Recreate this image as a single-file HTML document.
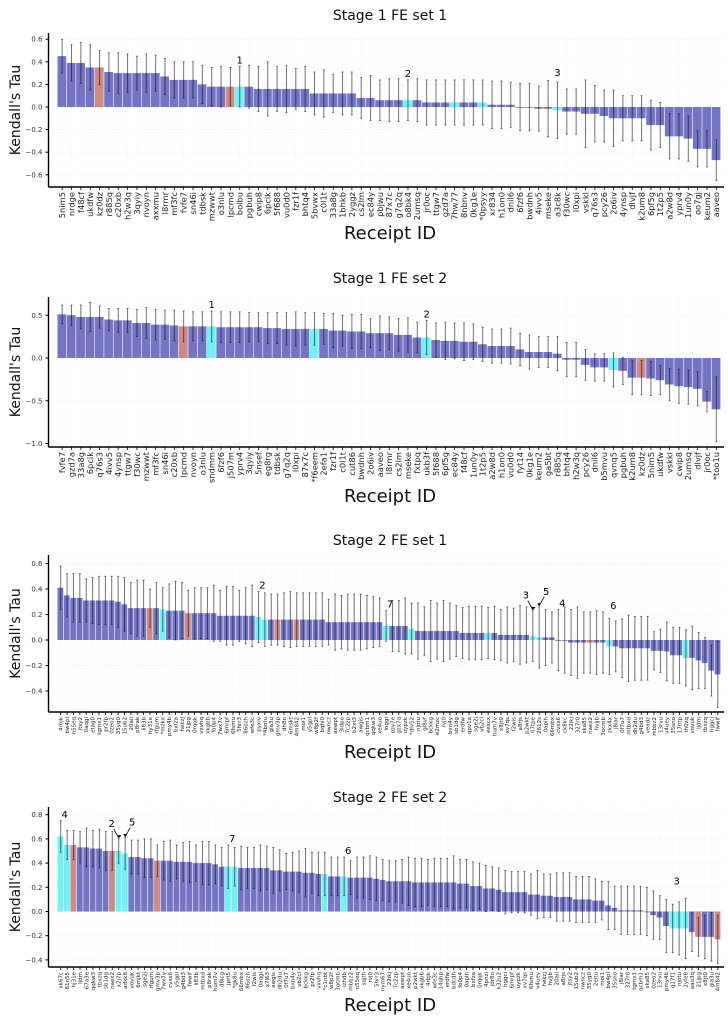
<!DOCTYPE html>
<html><head><meta charset="utf-8">
<style>
html,body{margin:0;padding:0;background:#fff;}
svg{display:block;font-family:"DejaVu Sans","Liberation Sans",sans-serif;}
</style></head>
<body>
<svg id="chart" width="728" height="1026" viewBox="0 0 728 1026" xmlns="http://www.w3.org/2000/svg"></svg>
<script>
// ---------- Panel 1 data ----------
const p1Names = ["5nim5","nrdge","f48cf","ukdfw","kz0dz","r885q","c20xb","h2w3q","3qyiy","nvoyn","axxmu","l8rmr","mf3fc","fvfe7","sn46i","tdbsk","mzwwt","o3nlu","lpcmd","bolbu","pgbuh","cwip8","6pcik","5f688","vu0d0","fzr1f","bhtq4","5bvwx","c0l1t","33a8g","1bhkb","2yggz","cs2lm","ec84y","pbjwu","87x7c","g7q2q","o8bk4","2umsq","jr0oc","ttgw7","gzd7a","7hw77","8nbnv","0kg1e","*0psyy","xr834","h1on0","dnil6","6fzf6","bwdnh","4ivv5","mseke","a3c8k","f30wc","l0xpi","vskkl","q76s3","pcy26","2o6iv","4ynsp","dlvjf","k2um8","6pf5g","1t2p5","a2w8d","yprv4","1un0y","oo7gj","keum2","aaveo"];
const p1Vals = [0.45,0.39,0.39,0.35,0.35,0.31,0.30,0.30,0.30,0.30,0.30,0.27,0.24,0.24,0.24,0.20,0.18,0.18,0.18,0.18,0.18,0.16,0.16,0.16,0.16,0.16,0.16,0.12,0.12,0.12,0.12,0.12,0.08,0.08,0.06,0.06,0.06,0.06,0.06,0.04,0.04,0.04,0.04,0.04,0.04,0.04,0.02,0.02,0.02,0,0,-0.015,-0.015,-0.03,-0.04,-0.04,-0.06,-0.06,-0.08,-0.10,-0.10,-0.10,-0.10,-0.16,-0.16,-0.26,-0.26,-0.28,-0.37,-0.37,-0.47];
const p1Errs = [0.15,0.16,0.18,0.2,0.15,0.17,0.18,0.17,0.15,0.17,0.16,0.16,0.16,0.16,0.16,0.17,0.17,0.18,0.17,0.18,0.19,0.2,0.24,0.2,0.21,0.18,0.2,0.19,0.21,0.17,0.19,0.19,0.18,0.2,0.18,0.19,0.19,0.18,0.19,0.2,0.2,0.2,0.2,0.2,0.2,0.2,0.21,0.21,0.2,0.21,0.21,0.2,0.25,0.25,0.2,0.2,0.3,0.25,0.23,0.25,0.2,0.2,0.2,0.22,0.2,0.2,0.2,0.2,0.16,0.16,0.18];
const p1Red = [4,18];
const p1Cyan = [19,37,42,45,53];
const p1Ticks = [0.6,0.4,0.2,0.0,-0.2,-0.4,-0.6];
const p1TickLabels = ["0.6","0.4","0.2","0.0","\u22120.2","\u22120.4","\u22120.6"];
const p1Notes = [["1",19],["2",37],["3",53]];

// ---------- Panel 2 data ----------
const p2Names = ["fvfe7","gzd7a","33a8g","6pcik","q76s3","4ivv5","4ynsp","ttgw7","f30wc","mzwwt","mf3fc","sn46i","c20xb","lpcmd","nvoyn","o3nlu","sndmm","6fzf6","j507m","yprv4","3qyiy","5nsef","eg8rg","tdbsk","g7q2q","l0xpi","87x7c","*f6eem","2efa1","fzr1f","c0l1t","cut86","bwdnh","2o6iv","aaveo","l8rmr","cs2lm","mseke","fxtpq","ukb3f","5f688","6pf5g","ec84y","f48cf","1un0y","1t2p5","a2w8d","h1on0","vu0d0","fyt14","0kg1e","keum2","ga5bt","r885q","bhtq4","h2w3q","pcy26","dnil6","b5mvu","qvnq5","pgbuh","k2um8","kz0dz","5nim5","ukdfw","vskkl","cwip8","2umsq","dlvjf","jr0oc","*too1u"];
const p2Vals = [0.51,0.50,0.48,0.48,0.48,0.45,0.44,0.44,0.41,0.41,0.39,0.39,0.38,0.37,0.37,0.37,0.37,0.36,0.36,0.36,0.36,0.36,0.35,0.35,0.34,0.34,0.34,0.34,0.34,0.32,0.32,0.31,0.31,0.29,0.29,0.29,0.27,0.27,0.24,0.24,0.21,0.20,0.20,0.19,0.19,0.16,0.14,0.14,0.14,0.10,0.07,0.07,0.07,0.05,-0.02,-0.02,-0.08,-0.11,-0.11,-0.14,-0.15,-0.23,-0.23,-0.24,-0.26,-0.31,-0.33,-0.34,-0.36,-0.51,-0.60];
const p2Errs = [0.11,0.12,0.14,0.17,0.13,0.13,0.14,0.14,0.16,0.18,0.18,0.17,0.18,0.18,0.17,0.17,0.18,0.18,0.18,0.18,0.17,0.17,0.18,0.18,0.19,0.2,0.19,0.19,0.18,0.2,0.18,0.2,0.2,0.17,0.2,0.19,0.19,0.2,0.18,0.2,0.2,0.22,0.21,0.22,0.21,0.2,0.2,0.2,0.21,0.19,0.2,0.18,0.18,0.2,0.2,0.2,0.18,0.16,0.16,0.2,0.16,0.2,0.2,0.2,0.17,0.19,0.2,0.2,0.2,0.12,0.38];
const p2Red = [13,62];
const p2Cyan = [16,27,39,59];
const p2Ticks = [0.5,0.0,-0.5,-1.0];
const p2TickLabels = ["0.5","0.0","\u22120.5","\u22121.0"];
const p2Notes = [["1",16],["2",39]];

// ---------- Panel 3 data ----------
const p3Names = ["4rbjk","bw4pl","n55eq","jtsy2","0aqgi","etag0","tgmx1","pr2fp","0zeo2","35yg0","15ub2","20aii","p8rak","li83b","hy31e","rfgum","*mzkx","pmy4b","bxfza","hekzj","21jpg","0rqqk","vxvhq","xkgbb","fo0p4","7wx7v","6mrpf","6fsmu","5hrr3","86ozh","wfe3c","pyxiv","*4botu","gia3u","gmv3p","dh8n","6mskt","4m842","moi1","y5gpl","w8p2f","bqhi0","nwncz","aewpt","3idpo","7c2zp","b2xt3","awgis","qcbm1","qqkw3","xe4uo","inggi","ozv7e","gzx7q","uypzk","*dlv52","njotu","gl8vf","bckkg","e2mzc","rvj0","bxn4y","sb1dg","erdfw","qpv1a","sge2j","vb2cl","eexcx","hum7v","x8jt0","xv7qs","f2wis","a8rjs","p2wkt","07tpe","2612s","0aplh","66mbx","cvxs6","ck8kc","22ikj","327r0","ska85","naex2","hvjjb","3ocmb","zkx4x","j8iar","0f7u7","mtbxd","dh2du","g4bd3","veadz","mbbz2","13rvu","v4uey","35sno","17htp","th0zq","vovuk","ljdm","tbxzq","hggci","fwwlf"];
const p3Vals = [0.41,0.35,0.33,0.33,0.31,0.31,0.31,0.31,0.31,0.30,0.28,0.25,0.25,0.25,0.25,0.25,0.24,0.23,0.23,0.23,0.21,0.21,0.21,0.21,0.21,0.19,0.19,0.19,0.19,0.19,0.19,0.18,0.16,0.16,0.16,0.16,0.16,0.16,0.16,0.16,0.16,0.16,0.14,0.14,0.14,0.14,0.14,0.14,0.14,0.14,0.14,0.11,0.11,0.11,0.11,0.09,0.07,0.07,0.07,0.07,0.07,0.07,0.07,0.055,0.055,0.055,0.055,0.055,0.055,0.04,0.04,0.04,0.04,0.04,0.03,0.02,0.02,0.02,0,0,-0.02,-0.02,-0.02,-0.02,-0.02,-0.02,-0.05,-0.05,-0.065,-0.065,-0.065,-0.065,-0.065,-0.085,-0.085,-0.09,-0.12,-0.12,-0.14,-0.14,-0.16,-0.18,-0.24,-0.27];
const p3Errs = [0.17,0.17,0.19,0.19,0.17,0.18,0.19,0.19,0.19,0.2,0.21,0.2,0.22,0.22,0.15,0.2,0.17,0.21,0.23,0.22,0.18,0.2,0.2,0.2,0.22,0.2,0.23,0.23,0.2,0.22,0.24,0.2,0.21,0.2,0.2,0.21,0.22,0.21,0.21,0.21,0.21,0.21,0.18,0.22,0.21,0.22,0.22,0.22,0.21,0.2,0.19,0.12,0.2,0.2,0.22,0.2,0.22,0.19,0.24,0.22,0.24,0.22,0.2,0.2,0.21,0.21,0.21,0.2,0.21,0.2,0.22,0.21,0.23,0.22,0.2,0.24,0.22,0.2,0.24,0.26,0.26,0.28,0.24,0.24,0.25,0.24,0.22,0.2,0.23,0.26,0.25,0.25,0.25,0.15,0.17,0.23,0.22,0.22,0.22,0.25,0.22,0.2,0.2,0.26];
const p3Red = [14,20,34,37,83];
const p3Cyan = [16,31,32,51,55,67,74,75,86,98];
const p3Ticks = [0.6,0.4,0.2,0.0,-0.2,-0.4];
const p3TickLabels = ["0.6","0.4","0.2","0.0","\u22120.2","\u22120.4"];
const p3Notes = [["2",31],["7",51],["4",78],["6",86]];
const p3Arrows = [["3",74,-1],["5",75,1]];

// ---------- Panel 4 data ----------
const p4Names = ["xk67c","81n55","hj31e","ljdm","67a3e","qqkw3","tbxzq","sb1dg","naex2","x2j7p","adxk8","vovuk","6mjkt","sge2j","rfgum","gmv3p","7wx7v","cvxs6","y5gpl","g4bd3","fwwlf","li83b","mtbxd","p8rak","hum7v","d8lcg","jprt5","*gk8u","66mbx","86ozh","f2wis","0aqgi","x7l63","awgis","dh2du","0f7u7","bxn4y","vb2cl","bckkg","pr2fp","vxvhq","*c1nbt","w8p2f","3ocmb","izhdb","mbbz2","n55eq","sqjth","rvj0","5hrr3","nym67","22ikj","7c2zp","aewpt","xe4uo","p2wkt","xkgbb","4rbjk","wfe3c","14qhp","erdfw","bdcdh","fo0p4","0aplh","bxfza","0rqqk","4pnzi","jdr8n","k32u2","hggci","6mrpf","uypzk","xv7qs","6fsmu","v4uey","hekzj","hvjjb","20aii","a8rjs","jtsy2","15ub2","nwncz","35yg0","2eltu","moi1","bw4pl","35sno","j8iar","327r0","tgmx1","qcbm1","ska85","0zeo2","13rvu","pmy4b","q17f1","njotu","2yfe8","aau3q","21jpg","x8jt0","gia3u","4m842"];
const p4Vals = [0.62,0.55,0.55,0.53,0.53,0.52,0.52,0.50,0.50,0.50,0.48,0.45,0.45,0.44,0.44,0.42,0.42,0.42,0.41,0.41,0.41,0.40,0.40,0.40,0.39,0.37,0.37,0.37,0.36,0.36,0.36,0.36,0.36,0.34,0.34,0.33,0.33,0.33,0.32,0.32,0.31,0.31,0.29,0.29,0.29,0.28,0.28,0.28,0.28,0.27,0.26,0.25,0.25,0.25,0.25,0.24,0.24,0.24,0.24,0.24,0.24,0.24,0.23,0.23,0.21,0.21,0.19,0.19,0.18,0.16,0.16,0.16,0.16,0.14,0.14,0.13,0.13,0.12,0.12,0.12,0.10,0.10,0.10,0.09,0.09,0.05,0.03,0.01,0.01,0.01,0.01,0,-0.03,-0.05,-0.12,-0.14,-0.14,-0.14,-0.17,-0.21,-0.21,-0.21,-0.23];
const p4Errs = [0.13,0.12,0.12,0.13,0.16,0.15,0.16,0.16,0.16,0.1,0.13,0.14,0.14,0.16,0.16,0.13,0.16,0.17,0.14,0.16,0.17,0.15,0.18,0.18,0.16,0.16,0.18,0.16,0.18,0.17,0.17,0.19,0.18,0.19,0.17,0.15,0.16,0.17,0.2,0.17,0.18,0.18,0.16,0.16,0.16,0.14,0.17,0.17,0.18,0.18,0.17,0.17,0.17,0.18,0.2,0.2,0.2,0.19,0.2,0.2,0.2,0.22,0.2,0.2,0.2,0.19,0.19,0.18,0.18,0.18,0.17,0.17,0.17,0.17,0.2,0.18,0.18,0.2,0.2,0.2,0.19,0.19,0.19,0.18,0.16,0.2,0.18,0.2,0.2,0.2,0.2,0.2,0.2,0.18,0.22,0.2,0.22,0.25,0.16,0.16,0.18,0.2,0.2];
const p4Red = [2,8,15,99,102];
const p4Cyan = [0,1,9,10,26,27,41,44,95,96,97];
const p4Ticks = [0.8,0.6,0.4,0.2,0.0,-0.2,-0.4];
const p4TickLabels = ["0.8","0.6","0.4","0.2","0.0","\u22120.2","\u22120.4"];
const p4Notes = [["4",0],["7",26],["6",44],["3",95]];
const p4Arrows = [["2",9,-1],["5",10,1]];

const NS = "http://www.w3.org/2000/svg";
const svg = document.getElementById('chart');
function mk(tag, attrs, parent){
  const e = document.createElementNS(NS, tag);
  for (const k in attrs) e.setAttribute(k, attrs[k]);
  (parent||svg).appendChild(e);
  return e;
}

const panels = [
  {id:"stage1-set1", title:"Stage 1 FE set 1", titleY:20, top:33, axisY:187, y0:107, scale:113, names:p1Names, vals:p1Vals, errs:p1Errs, red:p1Red, cyan:p1Cyan, ticks:p1Ticks, tickLabels:p1TickLabels, notes:p1Notes, arrows:[], fs:8.3, xlabY:239},
  {id:"stage1-set2", title:"Stage 1 FE set 2", titleY:283, top:297, axisY:447, y0:358, scale:85.5, names:p2Names, vals:p2Vals, errs:p2Errs, red:p2Red, cyan:p2Cyan, ticks:p2Ticks, tickLabels:p2TickLabels, notes:p2Notes, arrows:[], fs:8.3, xlabY:502},
  {id:"stage2-set1", title:"Stage 2 FE set 1", titleY:545, top:555, axisY:712, y0:640, scale:127.5, names:p3Names, vals:p3Vals, errs:p3Errs, red:p3Red, cyan:p3Cyan, ticks:p3Ticks, tickLabels:p3TickLabels, notes:p3Notes, arrows:p3Arrows, fs:5.5, xlabY:758},
  {id:"stage2-set2", title:"Stage 2 FE set 2", titleY:802, top:807, axisY:967, y0:911.5, scale:121, names:p4Names, vals:p4Vals, errs:p4Errs, red:p4Red, cyan:p4Cyan, ticks:p4Ticks, tickLabels:p4TickLabels, notes:p4Notes, arrows:p4Arrows, fs:5.5, xlabY:1011}
];

const AX = 48.5, X0 = 57.5, X1 = 721;

panels.forEach(p => {
  const g = mk('g', {});
  
  
  const n = p.names.length;
  const bw = (X1 - X0) / n;
  const xOf = i => X0 + i * bw;
  const yOf = v => p.y0 - v * p.scale;

  p.ticks.forEach(t => {
    const gl = mk('line', {x1:AX, x2:X1+2, y1:yOf(t), y2:yOf(t), stroke:'#ececf4', 'stroke-width':0.7, 'stroke-dasharray':'1,1'}, g);
    
    
  });
  for (let i = 0; i < n; i += 1) {
    const gv = mk('line', {x1:xOf(i)+bw/2, x2:xOf(i)+bw/2, y1:p.top, y2:p.axisY, stroke:'#f1f1f6', 'stroke-width':0.5, 'stroke-dasharray':'1,1'}, g);
    
    
  }

  const t = mk('text', {x:390, y:p.titleY, 'font-size':14, 'text-anchor':'middle', fill:'#111'}, g);
  t.textContent = p.title;
  
  

  for (let i = 0; i < n; i++) {
    const v = p.vals[i];
    let fill = '#7575c6';
    if (p.red.includes(i)) fill = '#d08a84';
    if (p.cyan.includes(i)) fill = '#6ff2f4';
    const y = Math.min(yOf(v), yOf(0));
    const h = Math.max(Math.abs(yOf(v) - yOf(0)), 0.8);
    const r = mk('rect', {x:xOf(i), y:y, width:Math.max(bw - 0.6, 0.5), height:h, fill:fill}, g);
    
    
  }
  for (let i = 0; i < n; i++) {
    const v = p.vals[i], e = p.errs[i];
    const cx = xOf(i) + bw / 2;
    const eb = mk('line', {x1:cx, x2:cx, y1:yOf(v+e), y2:yOf(v-e), stroke:'rgba(0,0,0,0.55)', 'stroke-width':1}, g);
    
    
    [v+e, v-e].forEach(w => {
      const c = mk('line', {x1:cx-1, x2:cx+1, y1:yOf(w), y2:yOf(w), stroke:'rgba(0,0,0,0.6)', 'stroke-width':0.8}, g);
      
      
    });
  }

  const ya = mk('line', {x1:AX, x2:AX, y1:p.top, y2:p.axisY, stroke:'#000', 'stroke-width':1.4}, g);
  
  
  const xa = mk('line', {x1:AX, x2:X1+3, y1:p.axisY, y2:p.axisY, stroke:'#000', 'stroke-width':1.4}, g);
  
  

  p.ticks.forEach((tv, k) => {
    const tk = mk('line', {x1:AX-3, x2:AX, y1:yOf(tv), y2:yOf(tv), stroke:'#000', 'stroke-width':1}, g);
    
    
    const tl = mk('text', {x:AX-6, y:yOf(tv)+2.5, 'font-size':7, 'text-anchor':'end', fill:'#333'}, g);
    tl.textContent = p.tickLabels[k];
    
    
  });

  for (let i = 0; i < n; i++) {
    const cx = xOf(i) + bw / 2;
    const tk = mk('line', {x1:cx, x2:cx, y1:p.axisY, y2:p.axisY+3, stroke:'#000', 'stroke-width':0.8}, g);
    
    
    const lx = cx + p.fs * 0.35;
    const ly = p.axisY + 5;
    const tl = mk('text', {x:lx, y:ly, 'font-size':p.fs, 'text-anchor':'end', fill:'#222', transform:'rotate(-90 '+lx+' '+ly+')'}, g);
    tl.textContent = p.names[i];
    
    
  }

  const yl = mk('text', {x:0, y:0, 'font-size':14, 'text-anchor':'middle', fill:'#111', transform:'translate(20,'+((p.top+p.axisY)/2)+') rotate(-90)'}, g);
  yl.textContent = "Kendall's Tau";
  
  
  const xl = mk('text', {x:390, y:p.xlabY, 'font-size':18, 'text-anchor':'middle', fill:'#111'}, g);
  xl.textContent = "Receipt ID";
  
  

  p.notes.forEach(([lab, i]) => {
    const v = p.vals[i], e = p.errs[i];
    const cx = xOf(i) + bw / 2;
    const at = mk('text', {x:cx + (p.fs<6?4:0), y:yOf(Math.max(v,0)+e)-3, 'font-size':10, 'text-anchor':'middle', fill:'#000'}, g);
    at.textContent = lab;
    
    
  });
  p.arrows.forEach(([lab, i, dir]) => {
    const v = p.vals[i], e = p.errs[i];
    const cx = xOf(i) + bw / 2;
    const ty = yOf(Math.max(v,0)+e);
    const tx = cx + dir * 5;
    const at = mk('text', {x:tx + dir*2, y:ty-12, 'font-size':10, 'text-anchor':'middle', fill:'#000'}, g);
    at.textContent = lab;
    
    
    const ar = mk('line', {x1:tx, y1:ty-10, x2:cx, y2:ty-1, stroke:'#000', 'stroke-width':0.8}, g);
    
    
    const hd = mk('path', {d:'M'+(cx-1.8)+' '+(ty-3.5)+' L'+cx+' '+(ty-0.5)+' L'+(cx+1.8-dir*1)+' '+(ty-3.8)+' Z', fill:'#000'}, g);
    
    
  });
});
</script>
</body></html>
